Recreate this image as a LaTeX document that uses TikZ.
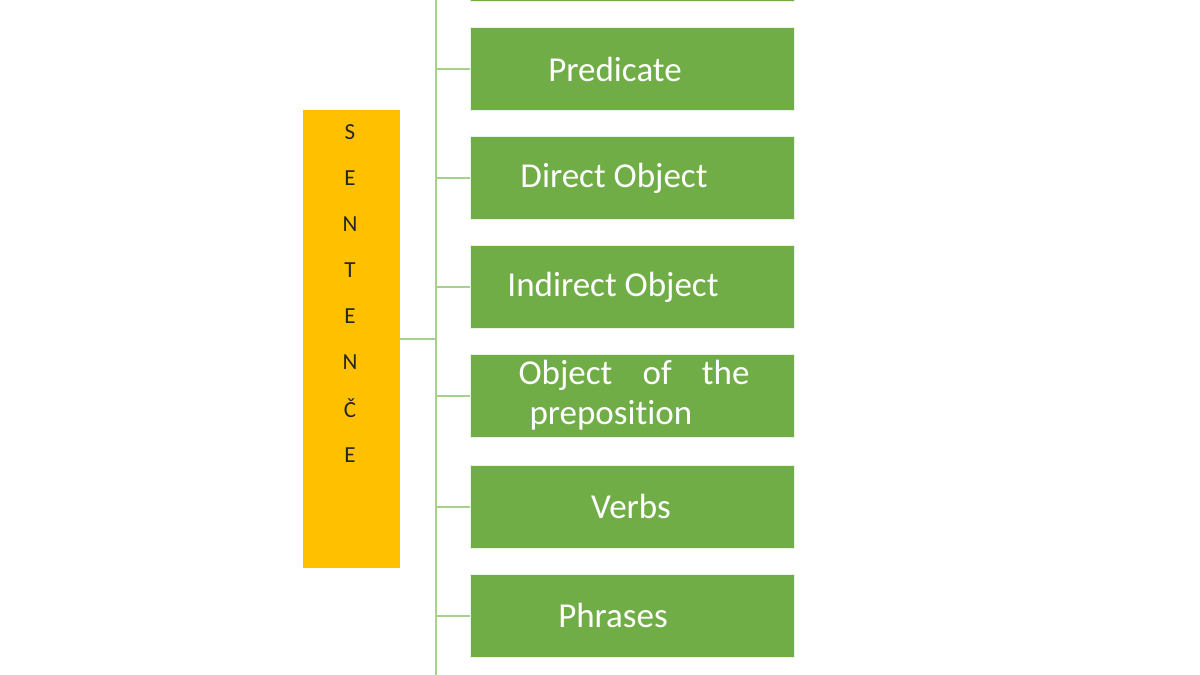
\documentclass[tikz,border=0pt]{standalone}
\usepackage{fontspec}
\setmainfont{Carlito}[RawFeature=-liga]
\usepackage{tikz}
\usetikzlibrary{positioning}
\definecolor{boxgreen}{HTML}{70AD47}
\definecolor{boxorange}{HTML}{FFC000}
\definecolor{linegreen}{HTML}{A9D18E}
\tikzstyle{greenblock}=[rectangle, draw=white!85!boxgreen, fill=boxgreen, minimum width=324pt, minimum height=83pt, inner sep=0pt]
\tikzstyle{orangeblock}=[rectangle, fill=boxorange, minimum width=97pt, minimum height=458pt, inner sep=0pt]
\tikzstyle{boxtext}=[text=white, font=\fontsize{35}{40}\selectfont, inner sep=0pt]
\tikzstyle{letter}=[text=black!85, font=\fontsize{23}{24}\selectfont, inner sep=0pt]
\tikzstyle{branch}=[draw=linegreen, line width=2pt]

\begin{document}
\begin{tikzpicture}[x=1pt, y=-1pt]
\useasboundingbox (0,0) rectangle (1200,675);
\clip (0,0) rectangle (1200,675);

\node[orangeblock] (sent) at (351.5,339) {};
\foreach \l [count=\i from 0] in {S,E,N,T,E,N,Č,E}
  \node[letter] (l\i) at (350,132+46.1*\i) {\l};

\node[greenblock] (p0) at (632,-40.5) {};
\node[greenblock] (p1) at (632,68.5) {};
\node[greenblock] (p2) at (632,177.5) {};
\node[greenblock] (p3) at (632,286.5) {};
\node[greenblock] (p4) at (632,395.5) {};
\node[greenblock] (p5) at (632,506.5) {};
\node[greenblock] (p6) at (632,615.5) {};

\node[boxtext] (t1) at ([xshift=-17pt,yshift=-1pt]p1.center) {Predicate};
\node[boxtext] (t2) at ([xshift=-18pt,yshift=-1pt]p2.center) {Direct Object};
\node[boxtext] (t3) at ([xshift=-19pt,yshift=-1pt]p3.center) {Indirect Object};
\node[boxtext, align=left] (t4) at ([xshift=2pt]p4.center) {\makebox[231pt][s]{Object of the}\\\hspace*{11pt}preposition};
\node[boxtext] (t5) at ([xshift=-1pt]p5.center) {Verbs};
\node[boxtext] (t6) at ([xshift=-19pt]p6.center) {Phrases};

\coordinate (top) at (436,0);
\coordinate (bot) at (436,675);
\draw[branch] (top) -- (bot);
\draw[branch] (sent.east) -- (sent.east -| top);
\foreach \p in {p1,p2,p3,p4,p5,p6}
  \draw[branch] (\p.west) -- (\p.west -| top);

\end{tikzpicture}
\end{document}
